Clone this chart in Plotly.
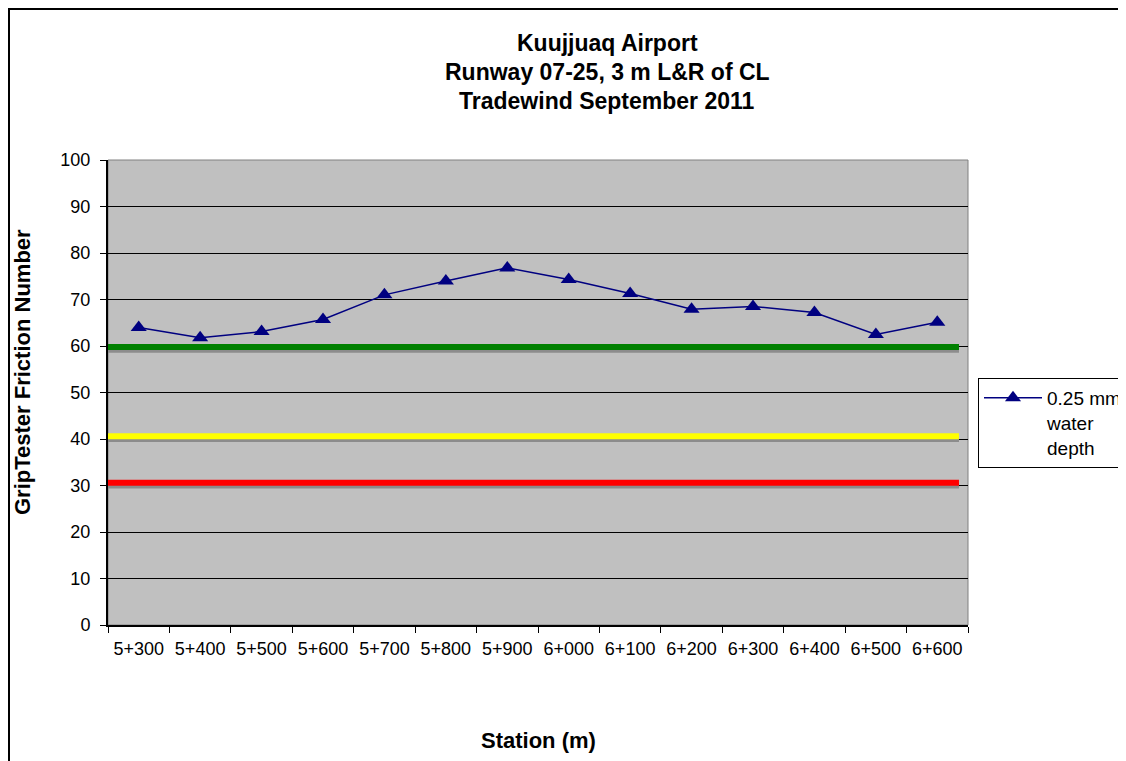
import plotly.graph_objects as go

stations = ["5+300", "5+400", "5+500", "5+600", "5+700", "5+800", "5+900",
            "6+000", "6+100", "6+200", "6+300", "6+400", "6+500", "6+600"]
friction = [64.0, 61.8, 63.1, 65.7, 71.0, 74.0, 76.8, 74.3, 71.3, 67.9, 68.5, 67.2, 62.5, 65.1]
series_name = "0.25 mm<br>water<br>depth"
threshold_values = [59.8, 40.6, 30.6]
threshold_colors = ["#008000", "#FFFF00", "#FF0000"]
title_lines = ["Kuujjuaq Airport", "Runway 07-25, 3 m L&R of CL", "Tradewind September 2011"]

FONT = "Liberation Sans, Arial, sans-serif"

fig = go.Figure()
fig.add_trace(go.Scatter(
    x=stations, y=friction, mode="lines+markers", name=series_name,
    line=dict(color="#000080", width=1.5),
    marker=dict(symbol="triangle-up", size=14, color="#000080"),
))

shapes = []
shapes.append(dict(type="rect", xref="paper", yref="paper", x0=0, x1=1, y0=0, y1=1,
                   line=dict(color="#808080", width=1), layer="below"))
for v, c in zip(threshold_values, threshold_colors):
    shapes.append(dict(type="line", xref="paper", yref="y", x0=0, x1=0.9895,
                       y0=v - 0.7, y1=v - 0.7, line=dict(color="#8C8C8C", width=5)))
    shapes.append(dict(type="line", xref="paper", yref="y", x0=0, x1=0.9895,
                       y0=v, y1=v, line=dict(color=c, width=6)))
shapes.append(dict(type="rect", xref="paper", yref="paper", x0=(9 - 108) / 860, x1=1.4,
                   y0=-0.5, y1=1 + (160 - 9) / 465, line=dict(color="black", width=2)))

annotations = []
for txt, ys in zip(title_lines, [43, 72, 101]):
    annotations.append(dict(text="<b>" + txt + "</b>", xref="paper", yref="paper",
                            x=(607 - 108) / 860, y=1 + (160 - ys) / 465, showarrow=False,
                            yanchor="middle", xanchor="center",
                            font=dict(size=23, family=FONT, color="black")))
annotations += [
    dict(text="<b>Station (m)</b>", xref="paper", yref="paper", x=0.5, y=-(740 - 625) / 465,
         showarrow=False, font=dict(size=22, family=FONT, color="black"), yanchor="middle"),
    dict(text="<b>GripTester Friction Number</b>", xref="paper", yref="paper", x=(22 - 108) / 860,
         y=(625 - 372) / 465, showarrow=False, textangle=-90,
         font=dict(size=22, family=FONT, color="black"), xanchor="center", yanchor="middle"),
]

fig.update_layout(
    width=1160, height=761,
    margin=dict(l=100, r=200, t=152, b=144),
    paper_bgcolor="white", plot_bgcolor="#C0C0C0",
    font=dict(family=FONT, size=18, color="black"),
    showlegend=True,
    legend=dict(x=(978 - 108) / 860, y=(625 - 378) / 465, xanchor="left", yanchor="top",
                bgcolor="white", bordercolor="black", borderwidth=1,
                font=dict(size=19, family=FONT, color="black"), valign="top",
                itemwidth=58, tracegroupgap=0),
    shapes=shapes, annotations=annotations,
    xaxis=dict(type="category", range=[-0.5, len(stations) - 0.5], tickson="boundaries",
               ticks="outside", ticklen=6,
               tickcolor="black", showline=True, linecolor="black", linewidth=2,
               showgrid=False, tickangle=0, ticklabelstandoff=6, zeroline=False,
               tickfont=dict(size=18, family=FONT)),
    yaxis=dict(range=[0, 100], dtick=10, ticks="outside", ticklen=6, tickcolor="black",
               showline=True, linecolor="black", linewidth=2,
               showgrid=True, gridcolor="black", gridwidth=1, zeroline=False,
               ticklabelstandoff=6, tickfont=dict(size=18, family=FONT)),
)

fig.write_html("out.html")
